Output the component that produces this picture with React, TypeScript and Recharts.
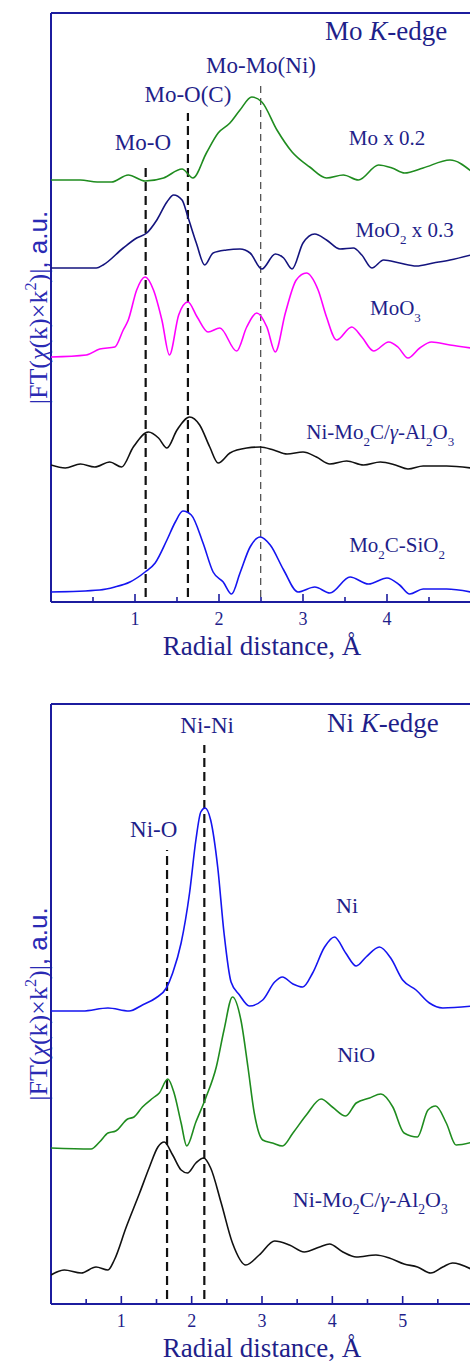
import React from 'react';
import { LineChart, Line, XAxis, YAxis, ReferenceLine } from 'recharts';

// |FT| curves: [radial distance (Å), magnitude (a.u., stacked)]
const moMetal: number[][] = [
  [0, 422], [0.35, 422], [0.55, 420], [0.72, 420], [0.92, 427], [1.12, 421], [1.34, 424], [1.56, 433],
  [1.69, 424], [1.85, 449], [1.99, 469], [2.13, 479], [2.25, 492], [2.39, 505], [2.51, 500],
  [2.69, 472], [2.87, 450], [3.08, 435], [3.28, 424], [3.48, 427], [3.66, 422], [3.9, 437],
  [4.06, 434], [4.21, 429], [4.43, 434], [4.75, 442], [5.0, 431],
];
const moO2: number[][] = [
  [0, 334], [0.54, 334], [0.62, 337], [0.86, 354], [1.02, 364], [1.14, 369], [1.26, 382], [1.38, 400],
  [1.46, 407], [1.56, 402], [1.63, 385], [1.73, 359], [1.83, 337], [1.93, 349], [2.09, 352],
  [2.25, 353], [2.37, 349], [2.51, 333], [2.67, 348], [2.77, 344], [2.87, 333], [3.0, 359],
  [3.14, 368], [3.28, 362], [3.44, 353], [3.6, 354], [3.7, 347], [3.82, 334], [3.96, 342],
  [4.15, 339], [4.35, 336], [4.55, 339], [4.75, 342], [5.0, 347],
];
const moO3: number[][] = [
  [0, 245], [0.42, 247], [0.58, 253], [0.76, 255], [0.86, 272], [0.92, 282], [1.02, 312], [1.12, 325],
  [1.22, 312], [1.32, 282], [1.41, 247], [1.52, 287], [1.63, 300], [1.74, 285], [1.87, 270],
  [2.01, 274], [2.21, 251], [2.33, 275], [2.45, 289], [2.57, 275], [2.67, 250], [2.79, 289],
  [2.92, 322], [3.04, 329], [3.18, 312], [3.28, 285], [3.4, 262], [3.58, 275], [3.7, 265],
  [3.84, 251], [4.02, 260], [4.13, 255], [4.25, 244], [4.39, 254], [4.53, 260], [4.75, 257], [5.0, 254],
];
const moCatalyst: number[][] = [
  [0, 137], [0.17, 134], [0.35, 138], [0.52, 135], [0.7, 140], [0.84, 135], [0.98, 155], [1.16, 170],
  [1.28, 164], [1.38, 154], [1.5, 172], [1.65, 185], [1.77, 177], [1.89, 155], [1.99, 139],
  [2.13, 149], [2.33, 154], [2.49, 155], [2.65, 152], [2.81, 148], [3.0, 150], [3.16, 145],
  [3.32, 138], [3.52, 141], [3.72, 137], [3.92, 140], [4.1, 137], [4.25, 133], [4.43, 136],
  [4.71, 136], [5.0, 134],
];
const mo2cSiO2: number[][] = [
  [0, 10], [0.58, 12], [0.76, 15], [0.94, 20], [1.12, 30], [1.24, 39], [1.38, 62], [1.48, 80],
  [1.57, 91], [1.67, 87], [1.81, 59], [1.93, 30], [2.05, 20], [2.15, 8], [2.25, 29], [2.37, 55],
  [2.49, 65], [2.61, 57], [2.77, 32], [2.94, 10], [3.14, 15], [3.32, 9], [3.56, 25], [3.78, 18],
  [4.0, 24], [4.15, 17], [4.27, 8], [4.43, 13], [4.71, 13], [5.0, 10],
];

const niMetal: number[][] = [
  [0, 293], [0.45, 293], [0.81, 296], [1.11, 293], [1.3, 299], [1.49, 306], [1.64, 316], [1.73, 331],
  [1.85, 361], [1.97, 411], [2.06, 464], [2.13, 492], [2.19, 496], [2.27, 484], [2.37, 437],
  [2.46, 371], [2.56, 322], [2.68, 309], [2.82, 298], [3.01, 304], [3.18, 322], [3.29, 327],
  [3.44, 320], [3.58, 317], [3.72, 331], [3.89, 357], [4.03, 367], [4.19, 351], [4.34, 338],
  [4.48, 347], [4.67, 357], [4.83, 346], [5.0, 324], [5.19, 314], [5.38, 301], [5.57, 296], [6.0, 298],
];
const niO: number[][] = [
  [0, 156], [0.57, 155], [0.69, 162], [0.81, 171], [0.92, 173], [1.09, 185], [1.18, 187], [1.3, 197],
  [1.45, 206], [1.54, 211], [1.66, 225], [1.75, 211], [1.85, 181], [1.93, 158], [2.06, 182],
  [2.2, 206], [2.35, 237], [2.46, 274], [2.58, 307], [2.7, 284], [2.8, 237], [2.89, 191],
  [3.01, 164], [3.15, 161], [3.29, 158], [3.44, 171], [3.63, 189], [3.84, 205], [4.0, 197],
  [4.19, 188], [4.34, 201], [4.53, 206], [4.69, 210], [4.86, 197], [5.02, 171], [5.21, 167],
  [5.36, 194], [5.47, 198], [5.62, 181], [5.76, 159], [6.0, 162],
];
const niCatalyst: number[][] = [
  [0, 29], [0.19, 34], [0.43, 31], [0.64, 37], [0.81, 34], [0.9, 44], [1.07, 77], [1.26, 111],
  [1.4, 137], [1.52, 157], [1.61, 162], [1.73, 149], [1.85, 134], [1.94, 131], [2.06, 141],
  [2.17, 146], [2.27, 136], [2.42, 101], [2.58, 61], [2.77, 39], [2.96, 49], [3.18, 63], [3.39, 59],
  [3.6, 52], [3.82, 57], [3.96, 60], [4.15, 52], [4.34, 47], [4.62, 49], [4.81, 46], [5.02, 40],
  [5.21, 37], [5.4, 31], [5.57, 37], [5.71, 41], [6.0, 34],
];

// bond positions (Å) and top of each dashed marker (a.u.)
const moBonds = [1.127, 1.63, 2.496];
const moBondTops = [439, 489, 520];
const niBonds = [1.65, 2.18];
const niBondTops = [454, 559];

const moTicks = [0.5, 1, 1.5, 2, 2.5, 3, 3.5, 4, 4.5];
const niTicks = [0.5, 1, 1.5, 2, 2.5, 3, 3.5, 4, 4.5, 5, 5.5];

const SERIF = '"Liberation Serif", "Times New Roman", serif';
const SANS = '"Liberation Sans", Arial, sans-serif';
const TEXT = '#1f1f8a';
const AXIS = '#1c1c9e';

const toRows = (pts: number[][]) => pts.map(([r, v]) => ({ r, v }));

type Kind = 'n' | 'sub' | 'sup' | 'it' | 'sans';
type Part = [string, Kind];

const Rich = ({ x, y, parts, size, fill = TEXT, transform }: {
  x: number; y: number; parts: Part[]; size: number; fill?: string; transform?: string;
}) => {
  let shift = 0;
  return (
    <text x={x} y={y} textAnchor="middle" fontFamily={SERIF} fontSize={size} fill={fill} transform={transform}>
      {parts.map(([s, k], i) => {
        const target = k === 'sub' ? size * 0.32 : k === 'sup' ? -size * 0.42 : 0;
        const dy = target - shift;
        shift = target;
        const small = k === 'sub' || k === 'sup';
        return (
          <tspan key={i} dy={dy} fontSize={small ? size * 0.62 : size}
            fontStyle={k === 'it' ? 'italic' : undefined}
            fontFamily={k === 'sans' ? SANS : undefined}>
            {s}
          </tspan>
        );
      })}
    </text>
  );
};

const RadialTick = (props: any) => {
  const { x, y, payload } = props;
  const major = Number.isInteger(payload.value);
  return (
    <g>
      <line x1={x} x2={x} y1={y} y2={y - (major ? 8 : 5)} stroke={AXIS} strokeWidth={1.6} />
      {major && (
        <text x={x} y={y + 23} textAnchor="middle" fontFamily={SERIF} fontSize={18} fill={TEXT}>
          {payload.value}
        </text>
      )}
    </g>
  );
};

const yLabelParts: Part[] = [
  ['|FT(', 'n'], ['χ', 'it'], ['(k)×k', 'n'], ['2', 'sup'], [')|', 'n'], [', a.u.', 'sans'],
];

const Panel = ({ width, height, margin, xMax, yMax, ticks, axisHeight, children }: any) => {
  const plotBottom = height - margin.bottom - axisHeight;
  const plotTop = margin.top;
  const unit = (width - margin.left - margin.right) / xMax;
  const px = (r: number) => margin.left + r * unit;
  const py = (v: number) => plotBottom - (v / yMax) * (plotBottom - plotTop);
  return (
    <LineChart width={width} height={height} margin={margin}>
      <XAxis dataKey="r" type="number" domain={[0, xMax]} allowDataOverflow ticks={ticks} interval={0}
        height={axisHeight} tickLine={false} tickSize={0} tickMargin={0} tick={<RadialTick />}
        axisLine={{ stroke: AXIS, strokeWidth: 2 }} />
      <YAxis type="number" domain={[0, yMax]} allowDataOverflow hide />
      {/* frame: left axis and top border */}
      <ReferenceLine x={0} stroke={AXIS} strokeWidth={2} />
      <ReferenceLine y={yMax} stroke={AXIS} strokeWidth={2} />
      {children(px, py)}
      <text x={margin.left + 211} y={plotBottom + 53} textAnchor="middle" fontFamily={SERIF} fontSize={27} fill={TEXT}>
        Radial distance, Å
      </text>
      <Rich x={47} y={(plotTop + plotBottom) / 2} size={26} fill="#2a2ab4" parts={yLabelParts}
        transform={`rotate(-90, 47, ${(plotTop + plotBottom) / 2})`} />
    </LineChart>
  );
};

const curve = (pts: number[][], color: string) => (
  <Line key={color + pts[0][1]} data={toRows(pts)} dataKey="v" type="monotone" stroke={color} strokeWidth={1.6}
    dot={false} activeDot={false} isAnimationActive={false} />
);

const dashed = (x: number, top: number, thin: boolean) => (
  <ReferenceLine key={x} segment={[{ x, y: 5 }, { x, y: top }]}
    stroke={thin ? '#555' : '#111'} strokeWidth={thin ? 1.3 : 2.2} strokeDasharray={thin ? '7 5' : '9 5'} />
);

export default function App() {
  return (
    <div style={{ position: 'absolute', left: 0, top: 0, width: 470, height: 1363, overflow: 'hidden', background: '#fff' }}>
      <div style={{ position: 'absolute', left: 0, top: 0 }}>
        <Panel width={480} height={680} margin={{ top: 13, right: 9, bottom: 18, left: 51 }}
          xMax={5} yMax={589} ticks={moTicks} axisHeight={60}>
          {(px: (r: number) => number, py: (v: number) => number) => [
            ...moBonds.map((b, i) => dashed(b, moBondTops[i], i === 2)),
            curve(moMetal, '#1f8c1f'),
            curve(moO2, '#14147e'),
            curve(moO3, '#ff00ff'),
            curve(moCatalyst, '#111111'),
            curve(mo2cSiO2, '#1515f0'),
            <Rich key="t1" x={px(3.99)} y={py(562)} size={27} parts={[['Mo ', 'n'], ['K', 'it'], ['-edge', 'n']]} />,
            <Rich key="t2" x={px(2.5)} y={py(529)} size={23} parts={[['Mo-Mo(Ni)', 'n']]} />,
            <Rich key="t3" x={px(1.63)} y={py(500)} size={23} parts={[['Mo-O(C)', 'n']]} />,
            <Rich key="t4" x={px(1.095)} y={py(452)} size={23} parts={[['Mo-O', 'n']]} />,
            <Rich key="t5" x={px(4.0)} y={py(457)} size={21} parts={[['Mo x 0.2', 'n']]} />,
            <Rich key="t6" x={px(4.21)} y={py(365)} size={21} parts={[['MoO', 'n'], ['2', 'sub'], [' x 0.3', 'n']]} />,
            <Rich key="t7" x={px(4.1)} y={py(287)} size={21} parts={[['MoO', 'n'], ['3', 'sub']]} />,
            <Rich key="t8" x={px(3.92)} y={py(163)} size={21}
              parts={[['Ni-Mo', 'n'], ['2', 'sub'], ['C/', 'n'], ['γ', 'it'], ['-Al', 'n'], ['2', 'sub'], ['O', 'n'], ['3', 'sub']]} />,
            <Rich key="t9" x={px(4.12)} y={py(50)} size={21} parts={[['Mo', 'n'], ['2', 'sub'], ['C-SiO', 'n'], ['2', 'sub']]} />,
          ]}
        </Panel>
      </div>
      <div style={{ position: 'absolute', left: 0, top: 690 }}>
        <Panel width={480} height={673} margin={{ top: 14, right: 7, bottom: 9, left: 51 }}
          xMax={6} yMax={600} ticks={niTicks} axisHeight={50}>
          {(px: (r: number) => number, py: (v: number) => number) => [
            ...niBonds.map((b, i) => dashed(b, niBondTops[i], false)),
            curve(niMetal, '#1515f0'),
            curve(niO, '#1f8c1f'),
            curve(niCatalyst, '#111111'),
            <Rich key="b1" x={px(4.72)} y={py(572)} size={27} parts={[['Ni ', 'n'], ['K', 'it'], ['-edge', 'n']]} />,
            <Rich key="b2" x={px(2.22)} y={py(571)} size={23} parts={[['Ni-Ni', 'n']]} />,
            <Rich key="b3" x={px(1.46)} y={py(467)} size={23} parts={[['Ni-O', 'n']]} />,
            <Rich key="b4" x={px(4.21)} y={py(391)} size={22} parts={[['Ni', 'n']]} />,
            <Rich key="b5" x={px(4.34)} y={py(242)} size={22} parts={[['NiO', 'n']]} />,
            <Rich key="b6" x={px(4.54)} y={py(97)} size={22}
              parts={[['Ni-Mo', 'n'], ['2', 'sub'], ['C/', 'n'], ['γ', 'it'], ['-Al', 'n'], ['2', 'sub'], ['O', 'n'], ['3', 'sub']]} />,
          ]}
        </Panel>
      </div>
    </div>
  );
}
